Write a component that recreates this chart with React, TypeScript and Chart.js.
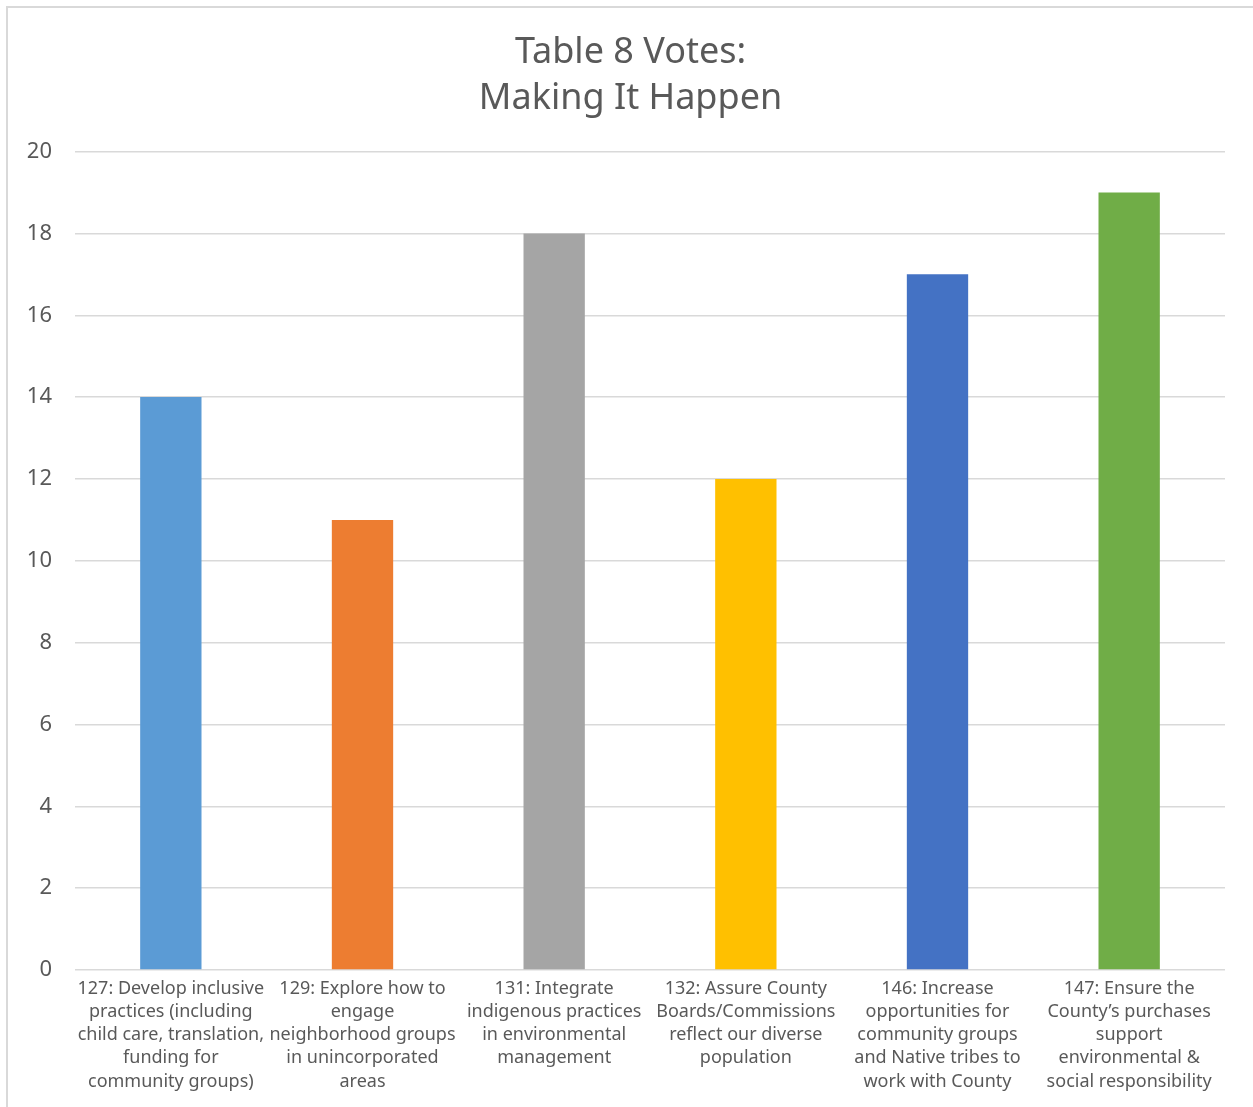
import React, { useEffect, useRef } from "react";
import { Chart, registerables } from "chart.js";

Chart.register(...registerables);

const titleLines = ["Table 8 Votes:", "Making It Happen"];

const categories: string[][] = [
  ["127: Develop inclusive", "practices (including", "child care, translation,", "funding for", "community groups)"],
  ["129: Explore how to", "engage", "neighborhood groups", "in unincorporated", "areas"],
  ["131: Integrate", "indigenous practices", "in environmental", "management"],
  ["132: Assure County", "Boards/Commissions", "reflect our diverse", "population"],
  ["146: Increase", "opportunities for", "community groups", "and Native tribes to", "work with County"],
  ["147: Ensure the", "County\u2019s purchases", "support", "environmental &", "social responsibility"],
];

const votes = [14, 11, 18, 12, 17, 19];

const barColors = ["#5B9BD5", "#ED7D31", "#A5A5A5", "#FFC000", "#4472C4", "#70AD47"];

const yTicks = [0, 2, 4, 6, 8, 10, 12, 14, 16, 18, 20];

const FONT = "'Noto Sans', sans-serif";
const TEXT = "#595959";

export default function App() {
  const ref = useRef<HTMLCanvasElement | null>(null);

  useEffect(() => {
    if (!ref.current) return;
    const chart = new Chart(ref.current, {
      type: "bar",
      data: {
        labels: categories,
        datasets: [
          {
            label: "Votes",
            data: votes,
            backgroundColor: barColors,
            borderWidth: 0,
            barPercentage: 0.32,
            categoryPercentage: 1,
            yAxisID: "y",
          },
        ],
      },
      options: {
        animation: false,
        responsive: false,
        maintainAspectRatio: false,
        layout: { padding: 0 },
        plugins: {
          legend: { display: false },
          tooltip: { enabled: false },
          title: {
            display: true,
            text: titleLines,
            color: TEXT,
            font: { family: FONT, size: 36, weight: "normal", lineHeight: 1.3 },
            padding: { top: 21, bottom: 29 },
          },
        },
        scales: {
          x: {
            grid: { display: false },
            border: { display: false },
            ticks: {
              color: TEXT,
              font: { family: FONT, size: 18, lineHeight: 1.29 },
              padding: -1,
              maxRotation: 0,
              autoSkip: false,
            },
            afterFit: (scale: any) => {
              scale.height = 137;
            },
          },
          y: {
            min: 0,
            max: 20,
            afterBuildTicks: (scale: any) => {
              scale.ticks = yTicks.map((v) => ({ value: v }));
            },
            grid: { color: "#d9d9d9", lineWidth: 1.5, drawTicks: false },
            border: { display: false },
            ticks: {
              color: TEXT,
              font: { family: FONT, size: 22 },
              padding: 23,
            },
            afterFit: (scale: any) => {
              scale.width = 67;
            },
          },
          yRight: {
            position: "right",
            min: 0,
            max: 20,
            display: true,
            grid: { display: false },
            border: { display: false },
            ticks: { display: false },
            afterFit: (scale: any) => {
              scale.width = 28;
            },
          },
        },
      },
    });
    return () => chart.destroy();
  }, []);

  return (
    <div
      style={{
        position: "absolute",
        left: 6,
        top: 6,
        width: 1245,
        height: 1099,
        borderLeft: "2px solid #d9d9d9",
        borderTop: "2px solid #d9d9d9",
        background: "#fff",
      }}
    >
      <canvas ref={ref} width={1245} height={1099} style={{ display: "block" }} />
    </div>
  );
}
